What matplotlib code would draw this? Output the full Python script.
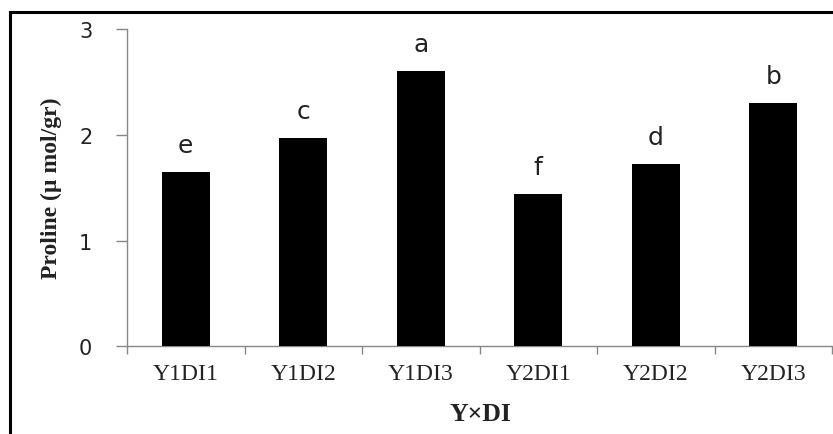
import matplotlib
matplotlib.use("Agg")
import matplotlib.pyplot as plt
from matplotlib.lines import Line2D
import numpy as np

categories = ["Y1DI1", "Y1DI2", "Y1DI3", "Y2DI1", "Y2DI2", "Y2DI3"]
values = [1.65, 1.97, 2.60, 1.44, 1.72, 2.30]
letters = ["e", "c", "a", "f", "d", "b"]
yticks = [0, 1, 2, 3]

W, H = 833, 435
fig = plt.figure(figsize=(W / 100, H / 100), dpi=100)
ax = fig.add_axes([127 / W, 1 - 347.3 / H, (832 - 127) / W, (347.3 - 30) / H])

x = np.arange(len(categories))
ax.bar(x, values, width=0.41, color="black", zorder=3)

for xi, v, lab in zip(x, values, letters):
    ax.annotate(lab, (xi, v), xytext=(0, 14.5), textcoords="offset points",
                ha="center", va="baseline", fontsize=18, family="DejaVu Sans",
                color="#222222")

ax.set_xlim(-0.5, len(categories) - 0.5)
ax.set_ylim(0, 3)
ax.set_yticks(yticks)
ax.set_yticklabels([str(t) for t in yticks], fontsize=15, family="DejaVu Sans", color="#222222")
ax.set_xticks(x)
ax.set_xticklabels(categories, fontsize=17, family="Liberation Serif", color="#222222")
ax.set_xticks(np.arange(len(categories) + 1) - 0.5, minor=True)

gray = "#878787"
for s in ["top", "right"]:
    ax.spines[s].set_visible(False)
for s in ["left", "bottom"]:
    ax.spines[s].set_color(gray)
    ax.spines[s].set_linewidth(1.0)

ax.tick_params(axis="y", which="major", length=8, width=1.0, color=gray, pad=17)
ax.tick_params(axis="x", which="major", length=0, pad=12)
ax.tick_params(axis="x", which="minor", length=5.5, width=1.0, color=gray)

fig.text(51 / W, 1 - 188.5 / H, "Proline (µ mol/gr)", rotation=90, ha="center", va="center",
         fontsize=17, fontweight="bold", family="Liberation Serif", color="#222222")
fig.text(480 / W, 1 - 415 / H, "Y×DI", ha="center", va="center",
         fontsize=18.5, fontweight="bold", family="Liberation Serif", color="#222222")

# outer frame (cut off at right and bottom)
fig.add_artist(Line2D([10 / W, 1.0], [1 - 12.7 / H, 1 - 12.7 / H], transform=fig.transFigure,
                      color="black", lw=2.2))
fig.add_artist(Line2D([10 / W, 10 / W], [1 - 12.7 / H, 0.0], transform=fig.transFigure,
                      color="black", lw=2.2))

fig.savefig("out.png", dpi=100)
